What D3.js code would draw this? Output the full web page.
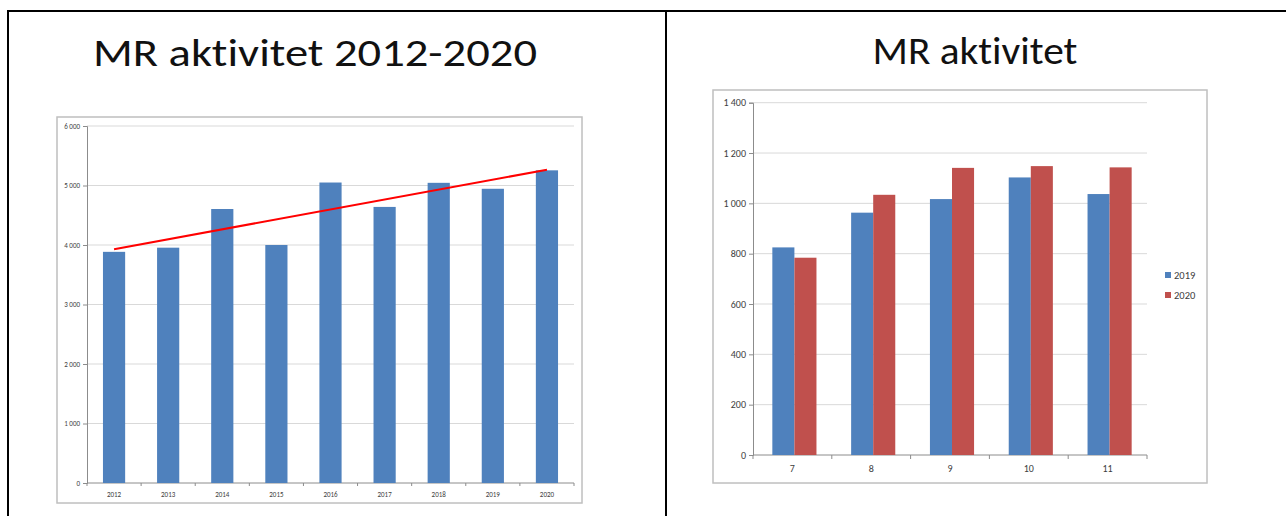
<!DOCTYPE html>
<html>
<head>
<meta charset="utf-8">
<script src="https://cdn.jsdelivr.net/npm/d3@7"></script>
<style>
  body { margin: 0; background: #fff; }
  svg { display: block; }
  text { font-variant-ligatures: none; font-feature-settings: "liga" 0; }
  .tick text { font-family: Calibri, Carlito, Lato, sans-serif; fill: #404040; }
</style>
</head>
<body>
<svg id="vis" width="1286" height="516"></svg>
<script>
// left chart data
const YEARS = ["2012", "2013", "2014", "2015", "2016", "2017", "2018", "2019", "2020"];
const YEAR_VALUES = [3885, 3955, 4605, 4000, 5050, 4640, 5045, 4945, 5255];
const TREND_YEARS = ["2012", "2020"];
const TREND_VALUES = [3930, 5265];
const LEFT_TICKS = [0, 1000, 2000, 3000, 4000, 5000, 6000];

// right chart data
const MONTHS = ["7", "8", "9", "10", "11"];
const SERIES_NAMES = ["2019", "2020"];
const VALUES_2019 = [825, 963, 1017, 1103, 1037];
const VALUES_2020 = [784, 1034, 1141, 1148, 1143];
const RIGHT_TICKS = [0, 200, 400, 600, 800, 1000, 1200, 1400];

const BLUE = "#4f81bd";
const RED = "#c0504d";
const GRID = "#d9d9d9";
const AXIS = "#8c8c8c";
const FRAME = "#bfbfbf";
const TITLE_FONT = "Calibri, Carlito, Lato, sans-serif";

const fmt = (d) => d3.format(",")(d).replace(/,/g, " ");

const svg = d3.select("#vis");

// outer black frame
svg.append("line").attr("x1", 8).attr("x2", 1286).attr("y1", 11).attr("y2", 11)
   .attr("stroke", "#000").attr("stroke-width", 2);
svg.append("line").attr("x1", 8).attr("x2", 8).attr("y1", 10).attr("y2", 516)
   .attr("stroke", "#000").attr("stroke-width", 2);
svg.append("line").attr("x1", 666).attr("x2", 666).attr("y1", 10).attr("y2", 516)
   .attr("stroke", "#000").attr("stroke-width", 2);

function title(text, cx, y, width) {
    svg.append("text")
       .text(text)
       .attr("x", cx)
       .attr("y", y)
       .attr("text-anchor", "middle")
       .attr("font-family", TITLE_FONT)
       .attr("font-size", 39)
       .attr("fill", "#111")
       .attr("textLength", width)
       .attr("lengthAdjust", "spacingAndGlyphs");
}

function frame(x0, y0, x1, y1) {
    svg.append("rect")
       .attr("x", x0).attr("y", y0)
       .attr("width", x1 - x0).attr("height", y1 - y0)
       .attr("fill", "#fff")
       .attr("stroke", FRAME)
       .attr("stroke-width", 1.5);
}

function axes(g, x, y, ticks, tickSize, xFont, yFont, xLabelDy) {
    const [left, right] = x.range();
    const [bottom, top] = y.range();

    // gridlines
    g.append("g").selectAll("line")
     .data(ticks.filter(d => d > 0))
     .enter()
     .append("line")
     .attr("x1", left).attr("x2", right)
     .attr("y1", d => y(d)).attr("y2", d => y(d))
     .attr("stroke", GRID).attr("stroke-width", 1);

    const yAxis = d3.axisLeft(y).tickValues(ticks).tickFormat(fmt).tickSize(4).tickPadding(3);
    const gy = g.append("g")
       .attr("transform", "translate(" + left + ",0)")
       .call(yAxis);
    gy.selectAll("text").style("font-size", yFont + "px");
    gy.selectAll("line").attr("stroke", AXIS);
    gy.select(".domain").attr("stroke", AXIS);

    // x axis: ticks at band boundaries
    const gx = g.append("g").attr("transform", "translate(0," + bottom + ")");
    gx.append("line").attr("x1", left).attr("x2", right).attr("stroke", AXIS);
    const n = x.domain().length;
    gx.selectAll(".bt")
      .data(d3.range(n + 1))
      .enter()
      .append("line")
      .attr("x1", i => left + i * x.step()).attr("x2", i => left + i * x.step())
      .attr("y1", 0).attr("y2", tickSize)
      .attr("stroke", AXIS);
    gx.selectAll("text")
      .data(x.domain())
      .enter()
      .append("text")
      .text(d => d)
      .attr("x", d => x(d) + x.bandwidth() / 2)
      .attr("y", xLabelDy)
      .attr("text-anchor", "middle")
      .attr("font-family", TITLE_FONT)
      .attr("font-size", xFont)
      .attr("fill", "#404040");
}

// ---------- left chart ----------
title("MR aktivitet 2012-2020", 315, 66, 444);
frame(57, 117, 582, 503);

const xL = d3.scaleBand().domain(YEARS).range([87, 574]).padding(0);
const yL = d3.scaleLinear().domain([0, 6000]).range([483, 126]);
const gL = svg.append("g");
axes(gL, xL, yL, LEFT_TICKS, 3, 7, 7, 14);

const barW = xL.bandwidth() * 0.41;
gL.selectAll(".bar")
  .data(YEAR_VALUES)
  .enter()
  .append("rect")
  .attr("class", "bar")
  .attr("x", (d, i) => xL(YEARS[i]) + (xL.bandwidth() - barW) / 2)
  .attr("width", barW)
  .attr("y", d => yL(d))
  .attr("height", d => yL(0) - yL(d))
  .attr("fill", BLUE);

gL.append("path")
  .datum(TREND_VALUES)
  .attr("d", d3.line()
      .x((d, i) => xL(TREND_YEARS[i]) + xL.bandwidth() / 2)
      .y(d => yL(d)))
  .attr("fill", "none")
  .attr("stroke", "#ff0000")
  .attr("stroke-width", 2);

// ---------- right chart ----------
title("MR aktivitet", 975, 64, 205);
frame(713, 90, 1207, 483);

const xR = d3.scaleBand().domain(MONTHS).range([753, 1147]).padding(0);
const yR = d3.scaleLinear().domain([0, 1400]).range([455, 102.7]);
const gR = svg.append("g");
axes(gR, xR, yR, RIGHT_TICKS, 4, 10, 10, 17);

const pairW = xR.bandwidth() * 0.56;
const x1 = d3.scaleBand().domain(SERIES_NAMES).range([0, pairW]);
const seriesVals = [VALUES_2019, VALUES_2020];
const colors = [BLUE, RED];

SERIES_NAMES.forEach((s, k) => {
    gR.selectAll(".bar" + s)
      .data(seriesVals[k])
      .enter()
      .append("rect")
      .attr("x", (d, i) => xR(MONTHS[i]) + (xR.bandwidth() - pairW) / 2 + 2 + x1(s))
      .attr("width", x1.bandwidth())
      .attr("y", d => yR(d))
      .attr("height", d => yR(0) - yR(d))
      .attr("fill", colors[k]);
});

// legend
const legend = svg.append("g").attr("transform", "translate(1165,272)");
legend.selectAll("rect")
  .data(SERIES_NAMES)
  .enter()
  .append("rect")
  .attr("x", 0)
  .attr("y", (d, i) => i * 20)
  .attr("width", 6).attr("height", 6)
  .attr("fill", (d, i) => colors[i]);
legend.selectAll("text")
  .data(SERIES_NAMES)
  .enter()
  .append("text")
  .text(d => d)
  .attr("x", 9)
  .attr("y", (d, i) => i * 20 + 7)
  .attr("font-family", TITLE_FONT)
  .attr("font-size", 10.5)
  .attr("fill", "#404040");
</script>
</body>
</html>
